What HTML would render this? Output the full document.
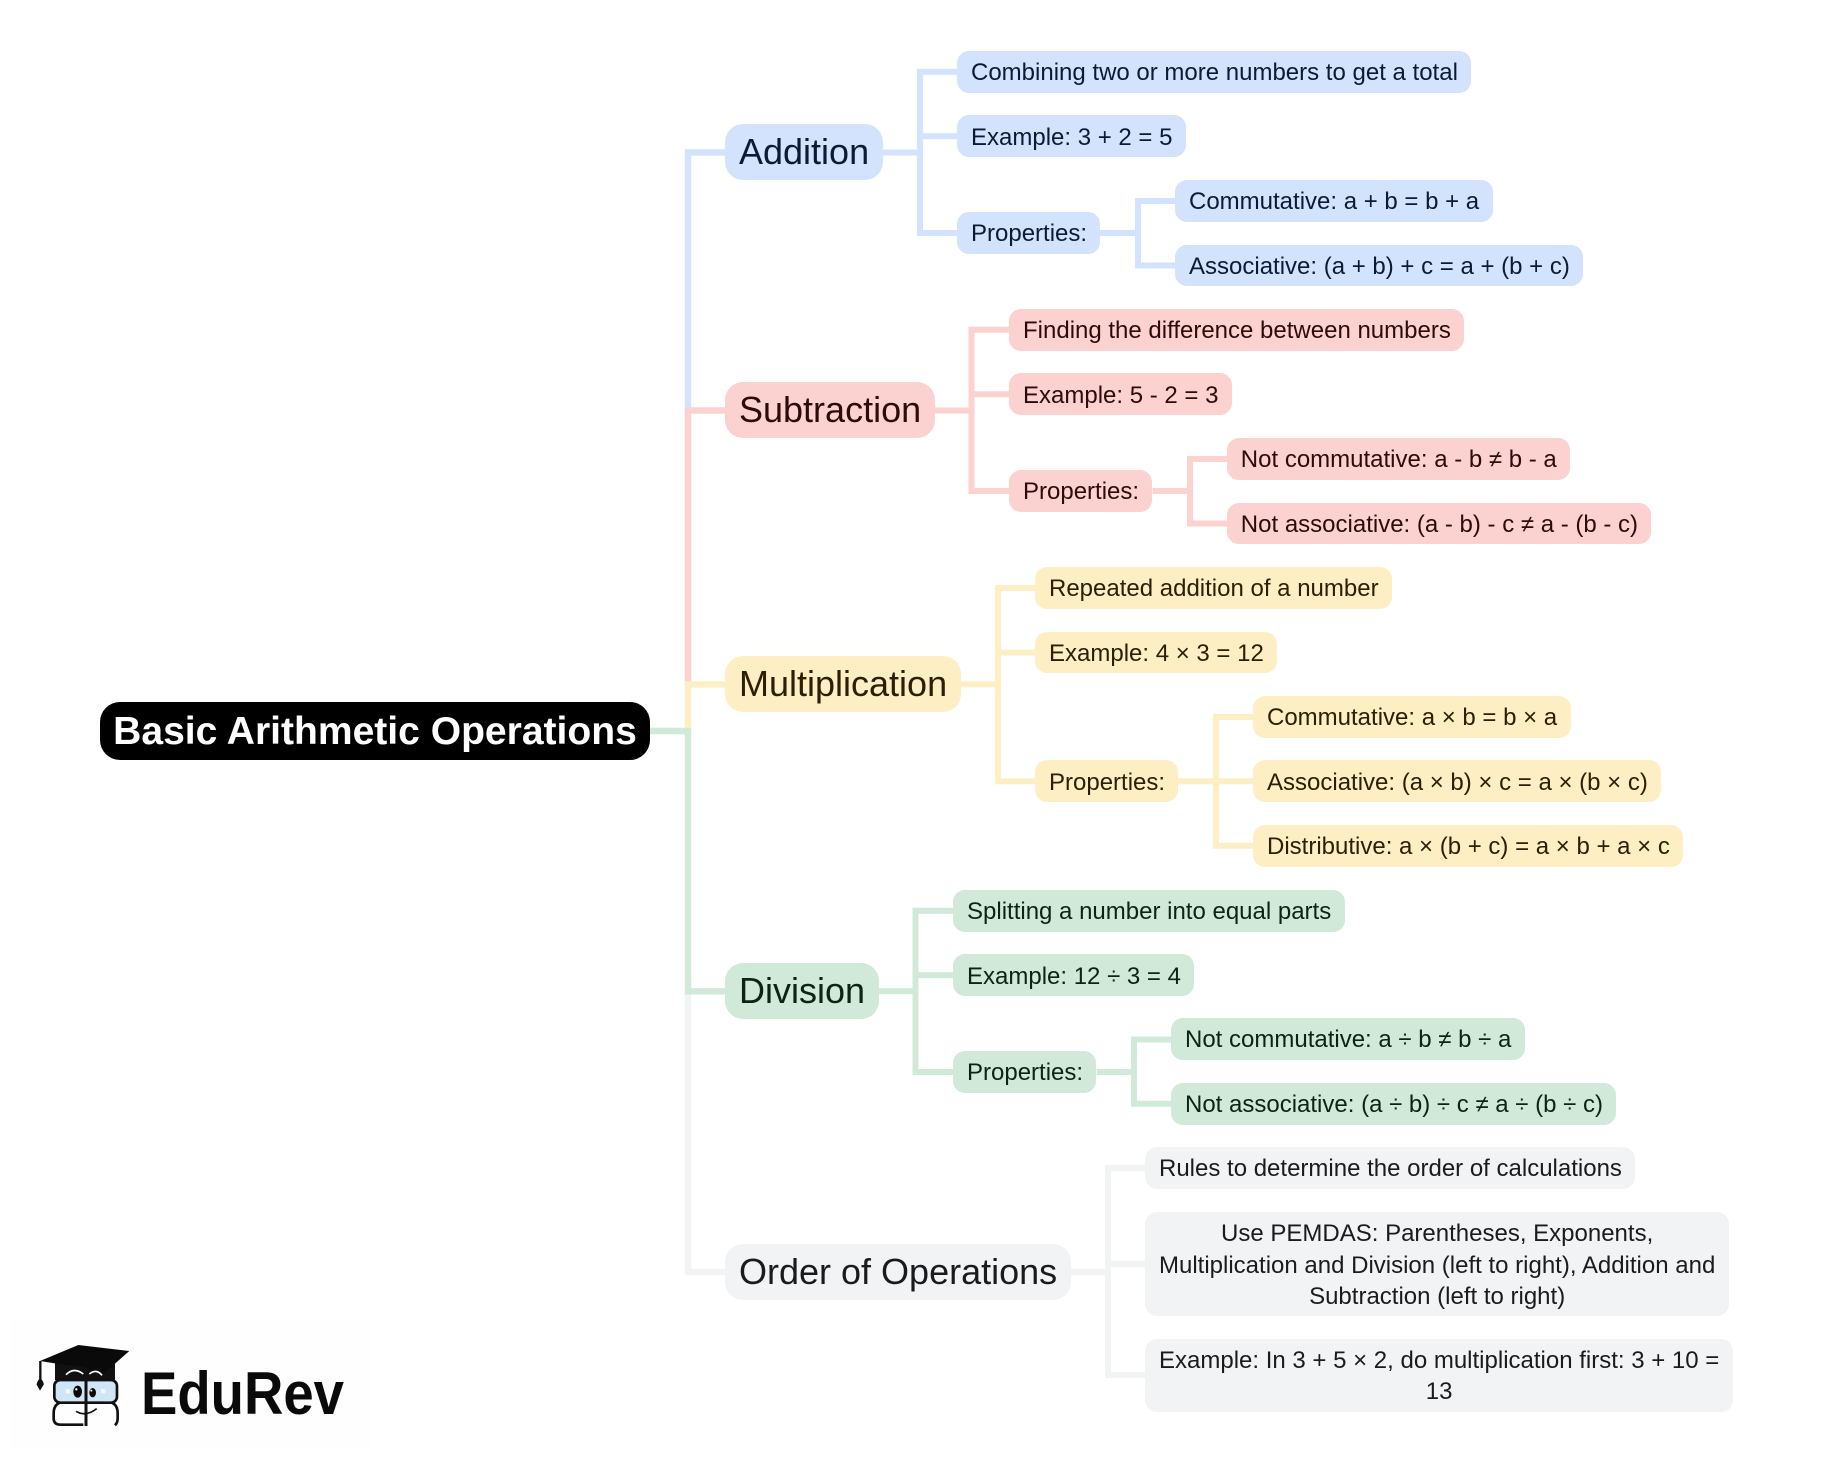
<!DOCTYPE html>
<html lang="en">
<head>
<meta charset="utf-8">
<title>Basic Arithmetic Operations</title>
<style>
html,body{margin:0;padding:0;background:#fff}
#c{position:relative;width:1833px;height:1462px;overflow:hidden;background:#fff;font-family:"Liberation Sans",Arial,sans-serif}
#c svg.l{position:absolute;left:0;top:0}
.n{position:absolute;white-space:nowrap;font-size:24px;line-height:31.2px;padding:6.4px 13.4px 4.4px 14px;border-radius:12px;text-align:center}
.t{font-size:36px;line-height:46.8px;padding:5px 13.6px 4.6px 14px;border-radius:18px}
.r{position:absolute;left:100px;top:702px;width:550px;height:58px;box-sizing:border-box;background:#000;color:#fff;font-weight:bold;font-size:39.05px;line-height:59px;border-radius:20px;text-align:center;white-space:nowrap}
.b{background:#d3e2fd;color:#0c1a36}
.d{background:#fbd2d0;color:#2c0b0b}
.y{background:#fdefc3;color:#2b2006}
.g{background:#d0e9d8;color:#0b2415}
.k{background:#f2f3f5;color:#1a1b1f}
</style>
</head>
<body>
<div id="c">
<svg class="l" width="1833" height="1462" viewBox="0 0 1833 1462" fill="none" stroke-width="6.4" stroke-linejoin="miter">
  <rect x="10" y="1318" width="360" height="130" fill="#fefefe" stroke="none"/>
  <!-- top level -->
  <g stroke="#f2f3f5"><path d="M688 991V1272H725"/></g>
  <g stroke="#d3e2fd"><path d="M688 731V152.5H725"/></g>
  <g stroke="#fbd2d0"><path d="M688 684V410.5H725"/></g>
  <g stroke="#fdefc3"><path d="M688 731V684.4H725"/></g>
  <g stroke="#d0e9d8"><path d="M650 731H688V991.3H725"/></g>
  <!-- addition -->
  <g stroke="#d3e2fd" stroke-width="6">
    <path d="M882 152.5H920"/>
    <path d="M957 71.7H920V233H957"/><path d="M920 136.3H957"/>
    <path d="M1100 233H1138"/><path d="M1175 201H1138V265.5H1175"/>
  </g>
  <!-- subtraction -->
  <g stroke="#fbd2d0" stroke-width="6">
    <path d="M934 410.5H971.5"/>
    <path d="M1009 329.7H971.5V491H1009"/><path d="M971.5 394.3H1009"/>
    <path d="M1152.6 491H1190"/><path d="M1227.5 459H1190V523.5H1227.5"/>
  </g>
  <!-- multiplication -->
  <g stroke="#fdefc3" stroke-width="6">
    <path d="M960 684.4H998"/>
    <path d="M1035 588H998V781.3H1035"/><path d="M998 652.5H1035"/>
    <path d="M1178 781.3H1253"/><path d="M1253 717H1216V845.7H1253"/>
  </g>
  <!-- division -->
  <g stroke="#d0e9d8" stroke-width="6">
    <path d="M878 991.3H915.5"/>
    <path d="M953 910.7H915.5V1072H953"/><path d="M915.5 975.3H953"/>
    <path d="M1096.6 1072H1134"/><path d="M1171 1039.5H1134V1103.8H1171"/>
  </g>
  <!-- order -->
  <g stroke="#f2f3f5" stroke-width="6">
    <path d="M1071 1272H1108"/>
    <path d="M1145 1168H1108V1375H1145"/><path d="M1108 1264H1145"/>
  </g>
  <!-- logo -->
  <g transform="translate(0 1300) scale(.3333)">
    <path d="M165 190H345V240H165Z" fill="#111" stroke="none"/>
    <path d="M120 183L235 135L388 153L310 222L258 203L165 190Z" fill="#0a0a0a" stroke="none"/>
    <path d="M198 224Q222 200 250 222M268 222Q290 205 306 226" stroke="#fff" stroke-width="5"/>
    <path d="M121 183V240" stroke="#111" stroke-width="7"/>
    <path d="M121 234C129 242 132 250 131 254L120 272L110 254C110 248 114 240 121 234Z" fill="#111" stroke="none"/>
    <rect x="163" y="240" width="188" height="68" rx="18" fill="#cfe6f6" stroke="#111" stroke-width="8"/>
    <path d="M258 238V378" stroke="#111" stroke-width="9"/>
    <ellipse cx="233" cy="275" rx="13" ry="18" fill="#0a0a0a" stroke="none"/>
    <ellipse cx="278" cy="278" rx="10" ry="14" fill="#0a0a0a" stroke="none"/>
    <circle cx="229" cy="268" r="3.5" fill="#fff" stroke="none"/>
    <circle cx="274" cy="272" r="3" fill="#fff" stroke="none"/>
    <rect x="197" y="267" width="13" height="13" fill="#f1f8fd" stroke="none"/>
    <rect x="303" y="267" width="13" height="13" fill="#f1f8fd" stroke="none"/>
    <path d="M180 308Q161 315 161 340V355Q161 374 182 374H250" stroke="#111" stroke-width="8"/>
    <path d="M335 308Q353 315 353 340V355Q353 368 345 376" stroke="#111" stroke-width="8"/>
    <path d="M228 334Q258 352 290 326" stroke="#111" stroke-width="5"/>
  </g>
  <text x="141" y="1414" font-family="'Liberation Sans',sans-serif" font-weight="bold" font-size="60" fill="#0a0a0a" stroke="none" textLength="203" lengthAdjust="spacingAndGlyphs">EduRev</text>
</svg>

<div class="r">Basic Arithmetic Operations</div>

<div class="n t b" style="left:725px;top:124px">Addition</div>
<div class="n b" style="left:957px;top:50.7px">Combining two or more numbers to get a total</div>
<div class="n b" style="left:957px;top:115.3px">Example: 3 + 2 = 5</div>
<div class="n b" style="left:957px;top:212px">Properties:</div>
<div class="n b" style="left:1175px;top:180px">Commutative: a + b = b + a</div>
<div class="n b" style="left:1175px;top:244.5px">Associative: (a + b) + c = a + (b + c)</div>

<div class="n t d" style="left:725px;top:382px">Subtraction</div>
<div class="n d" style="left:1009px;top:308.7px">Finding the difference between numbers</div>
<div class="n d" style="left:1009px;top:373.3px">Example: 5 - 2 = 3</div>
<div class="n d" style="left:1009px;top:470px">Properties:</div>
<div class="n d" style="left:1226.8px;top:438px">Not commutative: a - b ≠ b - a</div>
<div class="n d" style="left:1226.8px;top:502.5px">Not associative: (a - b) - c ≠ a - (b - c)</div>

<div class="n t y" style="left:725px;top:656px">Multiplication</div>
<div class="n y" style="left:1035px;top:567px">Repeated addition of a number</div>
<div class="n y" style="left:1035px;top:631.5px">Example: 4 × 3 = 12</div>
<div class="n y" style="left:1035px;top:760.3px">Properties:</div>
<div class="n y" style="left:1253px;top:696px">Commutative: a × b = b × a</div>
<div class="n y" style="left:1253px;top:760.3px">Associative: (a × b) × c = a × (b × c)</div>
<div class="n y" style="left:1253px;top:824.7px">Distributive: a × (b + c) = a × b + a × c</div>

<div class="n t g" style="left:725px;top:963px">Division</div>
<div class="n g" style="left:953px;top:889.7px">Splitting a number into equal parts</div>
<div class="n g" style="left:953px;top:954.3px">Example: 12 ÷ 3 = 4</div>
<div class="n g" style="left:953px;top:1051px">Properties:</div>
<div class="n g" style="left:1171px;top:1018px">Not commutative: a ÷ b ≠ b ÷ a</div>
<div class="n g" style="left:1171px;top:1082.6px">Not associative: (a ÷ b) ÷ c ≠ a ÷ (b ÷ c)</div>

<div class="n t k" style="left:725px;top:1244px">Order of Operations</div>
<div class="n k" style="left:1145px;top:1147px">Rules to determine the order of calculations</div>
<div class="n k" style="left:1145px;top:1212px">Use PEMDAS: Parentheses, Exponents,<br>Multiplication and Division (left to right), Addition and<br>Subtraction (left to right)</div>
<div class="n k" style="left:1145px;top:1338.5px">Example: In 3 + 5 × 2, do multiplication first: 3 + 10 =<br>13</div>
</div>
</body>
</html>
